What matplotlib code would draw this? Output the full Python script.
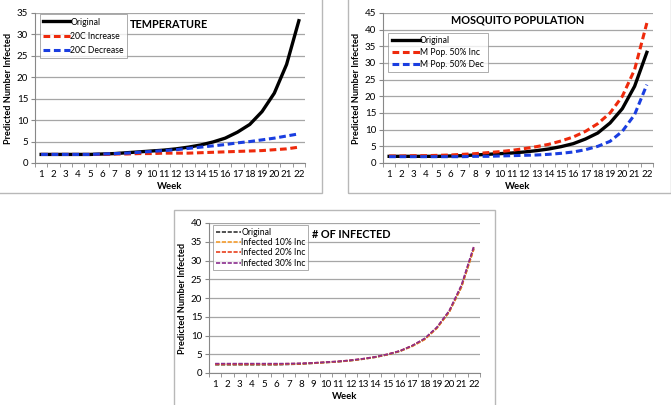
import numpy as np
import matplotlib
matplotlib.use("Agg")
import matplotlib.pyplot as plt
from matplotlib.patches import Rectangle
from matplotlib.ticker import MultipleLocator

plt.rcParams['font.family'] = ['Lato', 'DejaVu Sans']

weeks = list(range(1, 23))

original = [2.0, 2.0, 2.0, 2.0, 2.0, 2.1, 2.2, 2.4, 2.6, 2.8, 3.0, 3.3,
            3.7, 4.2, 4.9, 5.8, 7.2, 9.0, 12.0, 16.3, 23.0, 33.2]

temp_inc = [2.0, 2.0, 2.0, 2.0, 2.0, 2.0, 2.1, 2.1, 2.2, 2.2, 2.3, 2.3,
            2.3, 2.4, 2.5, 2.6, 2.7, 2.8, 2.9, 3.1, 3.3, 3.7]
temp_dec = [2.0, 2.0, 2.0, 2.0, 2.0, 2.1, 2.2, 2.3, 2.5, 2.7, 2.9, 3.1,
            3.4, 3.7, 4.0, 4.3, 4.7, 5.0, 5.4, 5.8, 6.3, 6.8]

mosq_inc = [2.1, 2.1, 2.2, 2.2, 2.3, 2.4, 2.6, 2.8, 3.1, 3.4, 3.8, 4.3,
            4.9, 5.6, 6.6, 7.8, 9.5, 11.8, 15.0, 20.0, 28.0, 42.0]
mosq_dec = [1.9, 1.9, 1.9, 1.9, 1.9, 1.9, 1.9, 2.0, 2.0, 2.1, 2.2, 2.3,
            2.4, 2.6, 2.9, 3.3, 4.0, 5.0, 6.5, 9.5, 14.5, 23.5]

inf_orig = [2.2, 2.2, 2.2, 2.2, 2.2, 2.2, 2.3, 2.4, 2.6, 2.8, 3.0, 3.3,
            3.7, 4.2, 4.9, 5.8, 7.2, 9.0, 12.0, 16.3, 23.0, 33.2]
inf_10 = [2.3, 2.3, 2.3, 2.3, 2.3, 2.3, 2.4, 2.5, 2.6, 2.8, 3.0, 3.3,
          3.7, 4.2, 4.9, 5.8, 7.1, 8.9, 11.9, 16.2, 22.9, 33.0]
inf_20 = [2.4, 2.4, 2.4, 2.4, 2.4, 2.4, 2.5, 2.5, 2.7, 2.9, 3.1, 3.4,
          3.8, 4.3, 5.0, 5.9, 7.3, 9.1, 12.1, 16.5, 23.3, 33.6]
inf_30 = [2.5, 2.5, 2.5, 2.5, 2.5, 2.5, 2.5, 2.6, 2.7, 2.9, 3.1, 3.4,
          3.8, 4.3, 5.0, 5.9, 7.3, 9.2, 12.2, 16.6, 23.5, 33.8]

W, H = 671, 405
fig = plt.figure(figsize=(W / 100, H / 100), dpi=100)

DASH = (0, (2.2, 1.2))


def px(x0, y0, x1, y1):
    # pixel box (top-left origin) -> figure fraction [l, b, w, h]
    return [x0 / W, 1 - y1 / H, (x1 - x0) / W, (y1 - y0) / H]


def panel_box(x0, y0, x1, y1):
    l, b, w, h = px(x0, y0, x1, y1)
    fig.add_artist(Rectangle((l, b), w, h, transform=fig.transFigure,
                             fill=False, edgecolor='#b8b8b8', lw=1.0))


def style_axes(ax, ymax, ystep):
    ax.set_xlim(0.5, 22.5)
    ax.set_ylim(0, ymax)
    ax.set_xticks(weeks)
    ax.set_xticks(np.arange(0.5, 23, 1), minor=True)
    ax.tick_params(axis='x', which='major', length=0, labelsize=7, pad=5)
    ax.tick_params(axis='x', which='minor', length=3, color='#888888', direction='out')
    ax.yaxis.set_major_locator(MultipleLocator(ystep))
    ax.tick_params(axis='y', length=3, color='#888888', labelsize=7, pad=2)
    ax.grid(axis='y', color='#a6a6a6', lw=0.9)
    ax.set_axisbelow(True)
    for s in ['top', 'right']:
        ax.spines[s].set_visible(False)
    for s in ['left', 'bottom']:
        ax.spines[s].set_color('#888888')
        ax.spines[s].set_linewidth(0.8)
    ax.set_xlabel('Week', fontsize=6.8, fontweight='bold', labelpad=2)
    ax.set_ylabel('Predicted Number Infected', fontsize=6.6, fontweight='bold', labelpad=3)


def legend(ax, anchor, fs, hl, spacing, pad):
    leg = ax.legend(loc='upper left', bbox_to_anchor=anchor, fontsize=fs, frameon=True,
                    fancybox=False, handlelength=hl, handletextpad=0.0,
                    borderpad=pad, labelspacing=spacing, borderaxespad=0)
    leg.get_frame().set_edgecolor('#888888')
    leg.get_frame().set_linewidth(0.6)
    return leg


# top-left: temperature
panel_box(-2, -2, 322, 193)
ax1 = fig.add_axes(px(35, 13, 305, 163))
ax1.plot(weeks, original, color='black', lw=2.4, label='Original')
ax1.plot(weeks, temp_inc, color='#ee2a0c', lw=2.2, ls=DASH, label='20C Increase')
ax1.plot(weeks, temp_dec, color='#1a3ee0', lw=2.2, ls=DASH, label='20C Decrease')
style_axes(ax1, 35, 5)
legend(ax1, (0.018, 0.99), 6.2, 3.2, 0.6, 0.35)
ax1.text(0.353, 0.925, 'TEMPERATURE', transform=ax1.transAxes, fontsize=7.8,
         fontweight='bold', va='center')

# top-right: mosquito population
panel_box(348, -2, 671, 193)
ax2 = fig.add_axes(px(383, 13, 653, 163))
ax2.plot(weeks, original, color='black', lw=2.4, label='Original')
ax2.plot(weeks, mosq_inc, color='#ee2a0c', lw=2.2, ls=DASH, label='M Pop. 50% Inc')
ax2.plot(weeks, mosq_dec, color='#1a3ee0', lw=2.2, ls=DASH, label='M Pop. 50% Dec')
style_axes(ax2, 45, 5)
legend(ax2, (0.02, 0.87), 6.2, 3.2, 0.3, 0.45)
ax2.text(0.5, 0.955, 'MOSQUITO POPULATION', transform=ax2.transAxes, fontsize=7.8,
         fontweight='bold', va='center', ha='center')

# bottom: number of infected
panel_box(174, 210, 495, 406)
ax3 = fig.add_axes(px(209, 223, 480, 373))
ax3.plot(weeks, inf_orig, color='#333333', lw=1.2, ls=(0, (2.5, 1)), label='Original')
ax3.plot(weeks, inf_10, color='#f39a2b', lw=1.2, ls=(0, (2.5, 1)), label='Infected 10% Inc')
ax3.plot(weeks, inf_20, color='#e8401c', lw=1.2, ls=(0, (2.5, 1)), label='Infected 20% Inc')
ax3.plot(weeks, inf_30, color='#8a2e8e', lw=1.2, ls=(0, (2.5, 1)), label='Infected 30% Inc')
style_axes(ax3, 40, 5)
legend(ax3, (0.015, 0.985), 6.2, 3.0, 0.15, 0.3)
ax3.text(0.38, 0.92, '# OF INFECTED', transform=ax3.transAxes, fontsize=7.8,
         fontweight='bold', va='center')

fig.savefig('out.png', dpi=100)
